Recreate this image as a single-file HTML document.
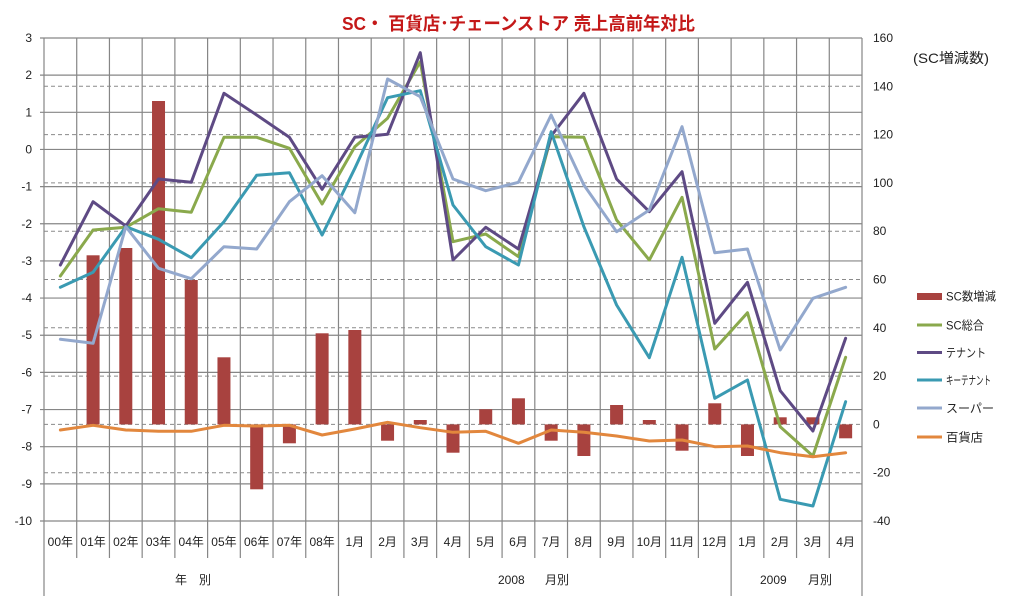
<!DOCTYPE html>
<html><head><meta charset="utf-8">
<style>
html,body{margin:0;padding:0;background:#fff;}
svg{display:block;}
text{font-family:"Liberation Sans","Noto Sans CJK JP",sans-serif;fill:#222;}
</style></head>
<body>
<svg width="1018" height="608" viewBox="0 0 1018 608" xmlns="http://www.w3.org/2000/svg">
<rect width="1018" height="608" fill="#fff"/>
<!-- title -->
<text x="342" y="30" font-size="18" font-weight="bold" style="fill:#C41818" textLength="353" lengthAdjust="spacingAndGlyphs">SC・ 百貨店･チェーンストア 売上高前年対比</text>
<text x="913" y="63" font-size="14" textLength="76" lengthAdjust="spacingAndGlyphs">(SC増減数)</text>

<!-- dashed right-axis gridlines -->
<g stroke="#8a8a8a" stroke-width="1" stroke-dasharray="4,3" fill="none">
<line x1="44" y1="86.3" x2="862" y2="86.3"/>
<line x1="44" y1="134.6" x2="862" y2="134.6"/>
<line x1="44" y1="182.9" x2="862" y2="182.9"/>
<line x1="44" y1="231.2" x2="862" y2="231.2"/>
<line x1="44" y1="279.5" x2="862" y2="279.5"/>
<line x1="44" y1="327.8" x2="862" y2="327.8"/>
<line x1="44" y1="376.1" x2="862" y2="376.1"/>
<line x1="44" y1="424.4" x2="862" y2="424.4"/>
<line x1="44" y1="472.7" x2="862" y2="472.7"/>
</g>
<!-- solid horizontal gridlines -->
<g stroke="#868686" stroke-width="1.2" fill="none">
<line x1="40" y1="38" x2="862" y2="38"/>
<line x1="40" y1="75.15" x2="862" y2="75.15"/>
<line x1="40" y1="112.31" x2="862" y2="112.31"/>
<line x1="40" y1="149.46" x2="862" y2="149.46"/>
<line x1="40" y1="186.62" x2="862" y2="186.62"/>
<line x1="40" y1="223.77" x2="862" y2="223.77"/>
<line x1="40" y1="260.92" x2="862" y2="260.92"/>
<line x1="40" y1="298.08" x2="862" y2="298.08"/>
<line x1="40" y1="335.23" x2="862" y2="335.23"/>
<line x1="40" y1="372.38" x2="862" y2="372.38"/>
<line x1="40" y1="409.54" x2="862" y2="409.54"/>
<line x1="40" y1="446.69" x2="862" y2="446.69"/>
<line x1="40" y1="483.85" x2="862" y2="483.85"/>
<line x1="40" y1="521" x2="862" y2="521"/>
</g>
<!-- vertical gridlines -->
<g stroke="#868686" stroke-width="1.2" fill="none">
<line x1="44" y1="38" x2="44" y2="596"/>
<line x1="76.72" y1="38" x2="76.72" y2="558"/>
<line x1="109.44" y1="38" x2="109.44" y2="558"/>
<line x1="142.16" y1="38" x2="142.16" y2="558"/>
<line x1="174.88" y1="38" x2="174.88" y2="558"/>
<line x1="207.6" y1="38" x2="207.6" y2="558"/>
<line x1="240.32" y1="38" x2="240.32" y2="558"/>
<line x1="273.04" y1="38" x2="273.04" y2="558"/>
<line x1="305.76" y1="38" x2="305.76" y2="558"/>
<line x1="338.48" y1="38" x2="338.48" y2="596"/>
<line x1="371.2" y1="38" x2="371.2" y2="558"/>
<line x1="403.92" y1="38" x2="403.92" y2="558"/>
<line x1="436.64" y1="38" x2="436.64" y2="558"/>
<line x1="469.36" y1="38" x2="469.36" y2="558"/>
<line x1="502.08" y1="38" x2="502.08" y2="558"/>
<line x1="534.8" y1="38" x2="534.8" y2="558"/>
<line x1="567.52" y1="38" x2="567.52" y2="558"/>
<line x1="600.24" y1="38" x2="600.24" y2="558"/>
<line x1="632.96" y1="38" x2="632.96" y2="558"/>
<line x1="665.68" y1="38" x2="665.68" y2="558"/>
<line x1="698.4" y1="38" x2="698.4" y2="558"/>
<line x1="731.12" y1="38" x2="731.12" y2="596"/>
<line x1="763.84" y1="38" x2="763.84" y2="558"/>
<line x1="796.56" y1="38" x2="796.56" y2="558"/>
<line x1="829.28" y1="38" x2="829.28" y2="558"/>
<line x1="862" y1="38" x2="862" y2="596"/>
</g>

<!-- bars -->
<g fill="#A8423F">
<rect x="86.58" y="255.3" width="13" height="169.1"/>
<rect x="119.3" y="248" width="13" height="176.4"/>
<rect x="152.02" y="101" width="13" height="323.4"/>
<rect x="184.74" y="280" width="13" height="144.4"/>
<rect x="217.46" y="357.3" width="13" height="67.1"/>
<rect x="250.18" y="424.4" width="13" height="64.9"/>
<rect x="282.9" y="424.4" width="13" height="18.9"/>
<rect x="315.62" y="333.3" width="13" height="91.1"/>
<rect x="348.34" y="330" width="13" height="94.4"/>
<rect x="381.06" y="424.4" width="13" height="16.3"/>
<rect x="413.78" y="420" width="13" height="4.4"/>
<rect x="446.5" y="424.4" width="13" height="28.3"/>
<rect x="479.22" y="409.3" width="13" height="15.1"/>
<rect x="511.94" y="398.3" width="13" height="26.1"/>
<rect x="544.66" y="424.4" width="13" height="16.3"/>
<rect x="577.38" y="424.4" width="13" height="31.6"/>
<rect x="610.1" y="405" width="13" height="19.4"/>
<rect x="642.82" y="420" width="13" height="4.4"/>
<rect x="675.54" y="424.4" width="13" height="26.3"/>
<rect x="708.26" y="403.3" width="13" height="21.1"/>
<rect x="740.98" y="424.4" width="13" height="31.6"/>
<rect x="773.7" y="417.3" width="13" height="7.1"/>
<rect x="806.42" y="417.3" width="13" height="7.1"/>
<rect x="839.14" y="424.4" width="13" height="13.9"/>
</g>

<!-- lines -->
<g fill="none" stroke-width="3" stroke-linejoin="round" stroke-linecap="round">
<polyline stroke="#8AA94C" points="60.36,276 93.08,230 125.8,227.3 158.52,208.7 191.24,212.3 223.96,137.3 256.68,137.3 289.4,148.3 322.12,204 354.84,146.7 387.56,118.3 420.28,61.7 453,241.7 485.72,234 518.44,256.7 551.16,136.7 583.88,137.3 616.6,220 649.32,260 682.04,197.3 714.76,349 747.48,312.7 780.2,426.7 812.92,456 845.64,357.3"/>
<polyline stroke="#5E4A84" points="60.36,265 93.08,201.7 125.8,226 158.52,179 191.24,182.3 223.96,93.3 256.68,115 289.4,137.3 322.12,189.3 354.84,137.3 387.56,134.3 420.28,52.7 453,260 485.72,227.3 518.44,249 551.16,136 583.88,93.3 616.6,179 649.32,211.7 682.04,171.7 714.76,323.3 747.48,282.3 780.2,390.7 812.92,431 845.64,338.3"/>
<polyline stroke="#3A9AB2" points="60.36,287.3 93.08,272.3 125.8,226.7 158.52,239.3 191.24,257.7 223.96,221.7 256.68,175.3 289.4,172.7 322.12,235 354.84,168.3 387.56,97.7 420.28,90.7 453,205 485.72,246.7 518.44,265 551.16,131.7 583.88,226.7 616.6,305 649.32,357.7 682.04,257.3 714.76,398.3 747.48,380 780.2,499.3 812.92,506 845.64,401.7"/>
<polyline stroke="#93A8CD" points="60.36,339.3 93.08,343.3 125.8,226.7 158.52,268.3 191.24,278.7 223.96,246.7 256.68,249 289.4,201.7 322.12,175.7 354.84,212.7 387.56,79 420.28,96.7 453,179 485.72,190.7 518.44,182.3 551.16,115 583.88,185 616.6,231.7 649.32,210 682.04,126.7 714.76,252.7 747.48,249 780.2,350 812.92,298.3 845.64,287.3"/>
<polyline stroke="#E2873D" points="60.36,430 93.08,425.3 125.8,430 158.52,431.3 191.24,431.3 223.96,425.3 256.68,426 289.4,425.3 322.12,435 354.84,429 387.56,422.3 420.28,427.7 453,432.3 485.72,431.3 518.44,443.3 551.16,430 583.88,432.3 616.6,436 649.32,441 682.04,440 714.76,446.7 747.48,446 780.2,452.7 812.92,456.7 845.64,452.7"/>
</g>

<!-- left axis labels -->
<g font-size="12" text-anchor="end">
<text x="32" y="42">3</text>
<text x="32" y="79.15">2</text>
<text x="32" y="116.31">1</text>
<text x="32" y="153.46">0</text>
<text x="32" y="190.62">-1</text>
<text x="32" y="227.77">-2</text>
<text x="32" y="264.92">-3</text>
<text x="32" y="302.08">-4</text>
<text x="32" y="339.23">-5</text>
<text x="32" y="376.38">-6</text>
<text x="32" y="413.54">-7</text>
<text x="32" y="450.69">-8</text>
<text x="32" y="487.85">-9</text>
<text x="32" y="525">-10</text>
</g>
<!-- right axis labels -->
<g font-size="12">
<text x="873" y="42">160</text>
<text x="873" y="90.3">140</text>
<text x="873" y="138.6">120</text>
<text x="873" y="186.9">100</text>
<text x="873" y="235.2">80</text>
<text x="873" y="283.5">60</text>
<text x="873" y="331.8">40</text>
<text x="873" y="380.1">20</text>
<text x="873" y="428.4">0</text>
<text x="873" y="476.7">-20</text>
<text x="873" y="525">-40</text>
</g>

<!-- category labels -->
<g font-size="12" text-anchor="middle">
<text x="60.36" y="546">00年</text>
<text x="93.08" y="546">01年</text>
<text x="125.8" y="546">02年</text>
<text x="158.52" y="546">03年</text>
<text x="191.24" y="546">04年</text>
<text x="223.96" y="546">05年</text>
<text x="256.68" y="546">06年</text>
<text x="289.4" y="546">07年</text>
<text x="322.12" y="546">08年</text>
<text x="354.84" y="546">1月</text>
<text x="387.56" y="546">2月</text>
<text x="420.28" y="546">3月</text>
<text x="453" y="546">4月</text>
<text x="485.72" y="546">5月</text>
<text x="518.44" y="546">6月</text>
<text x="551.16" y="546">7月</text>
<text x="583.88" y="546">8月</text>
<text x="616.6" y="546">9月</text>
<text x="649.32" y="546">10月</text>
<text x="682.04" y="546">11月</text>
<text x="714.76" y="546">12月</text>
<text x="747.48" y="546">1月</text>
<text x="780.2" y="546">2月</text>
<text x="812.92" y="546">3月</text>
<text x="845.64" y="546">4月</text>
</g>
<g font-size="12">
<text x="175" y="584">年　別</text>
<text x="498" y="584">2008</text>
<text x="545" y="584">月別</text>
<text x="760" y="584">2009</text>
<text x="808" y="584">月別</text>
</g>

<!-- legend -->
<rect x="917" y="293" width="25" height="7" fill="#A8423F"/>
<g stroke-width="3" fill="none">
<line x1="917" y1="325" x2="942" y2="325" stroke="#8AA94C"/>
<line x1="917" y1="352.5" x2="942" y2="352.5" stroke="#5E4A84"/>
<line x1="917" y1="380" x2="942" y2="380" stroke="#3A9AB2"/>
<line x1="917" y1="408" x2="942" y2="408" stroke="#93A8CD"/>
<line x1="917" y1="437" x2="942" y2="437" stroke="#E2873D"/>
</g>
<g font-size="12">
<text x="946" y="300.5" textLength="50" lengthAdjust="spacingAndGlyphs">SC数増減</text>
<text x="946" y="329.5" textLength="38" lengthAdjust="spacingAndGlyphs">SC総合</text>
<text x="946" y="357" textLength="40" lengthAdjust="spacingAndGlyphs">テナント</text>
<text x="946" y="384.5" textLength="45" lengthAdjust="spacingAndGlyphs">キーテナント</text>
<text x="946" y="412.5" textLength="48" lengthAdjust="spacingAndGlyphs">スーパー</text>
<text x="946" y="441.5" textLength="37" lengthAdjust="spacingAndGlyphs">百貨店</text>
</g>
</svg>
</body></html>
